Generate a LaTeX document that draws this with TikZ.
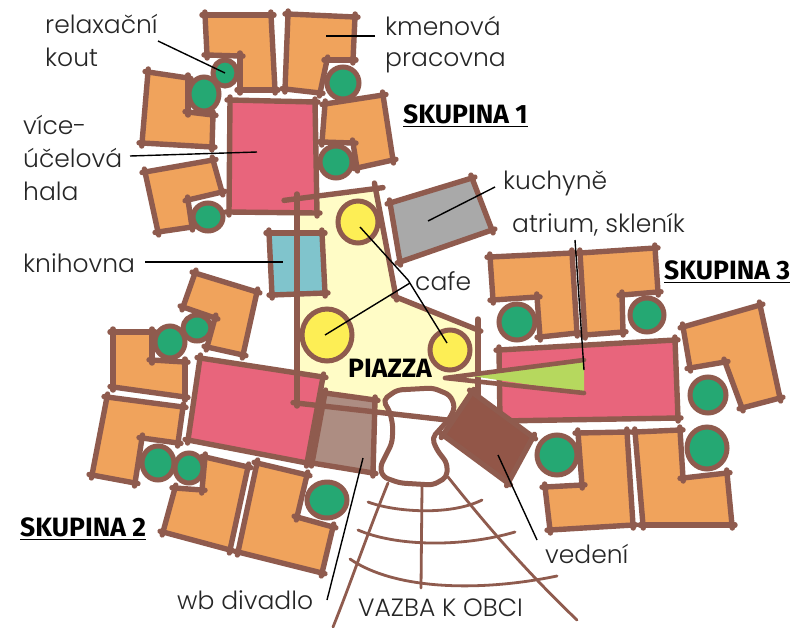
\documentclass[tikz,border=0pt]{standalone}
\usepackage{fontspec}
\setmainfont{Poppins Light}
\newfontfamily\boldlab{Fira Sans}
\definecolor{wallc}{HTML}{8F5B4E}
\definecolor{orangec}{HTML}{F0A35C}
\definecolor{pinkc}{HTML}{E8657C}
\definecolor{greenc}{HTML}{25A873}
\definecolor{yellowc}{HTML}{FDEE55}
\definecolor{piazzac}{HTML}{FFFCC6}
\definecolor{cyanc}{HTML}{80C4CC}
\definecolor{greyc}{HTML}{A9A9A9}
\definecolor{taupec}{HTML}{AD8D82}
\definecolor{darkc}{HTML}{925648}
\definecolor{atriumc}{HTML}{B6D85E}
\tikzset{
  x=1pt,y=-1pt,
  wall/.style={draw=wallc,line width=5.4pt,line cap=round,shorten <=-3pt,shorten >=-3pt},
  thinwall/.style={draw=wallc,line width=2.8pt,line cap=round},
  court/.style={draw=wallc,fill=greenc,line width=5pt},
  cafe/.style={draw=wallc,fill=yellowc,line width=5pt},
  leader/.style={draw=black,line width=1.4pt},
  lab/.style={anchor=base west,inner sep=0pt,font=\fontsize{25}{25}\selectfont,text=black!85},
  group/.style={anchor=base west,inner sep=0pt,font=\boldlab\bfseries\fontsize{26.5}{26.5}\selectfont,text=black},
}
% #1 fill, #2 first point, #3 other points
\newcommand{\plan}[3]{%
  \def\tmpp{}%
  \foreach \p in {#3}{\xdef\tmpp{\tmpp -- \p}}%
  \edef\cmdd{\noexpand\fill[#1] #2 \tmpp -- cycle;}\cmdd
  \xdef\prevv{#2}%
  \foreach \p in {#3,#2}{\draw[wall] \prevv -- \p; \xdef\prevv{\p}}%
}
\begin{document}
\begin{tikzpicture}
\useasboundingbox (0,0) rectangle (794,627);
\fill[white] (0,0) rectangle (794,627);
% piazza fill
\fill[piazzac] (297,202) -- (379,190) -- (396,297) -- (478,330) -- (477,390) -- (455,425) -- (376,412) -- (325,395) -- (322,376) -- (297,372) -- cycle;
% group 1
\plan{orangec}{(205,15)}{(271,15),(275,90),(240,90),(240,56),(207,55)}
\plan{orangec}{(288,14)}{(355,17),(353,60),(327,60),(320,93),(285,89)}
\plan{orangec}{(148,72)}{(188,78),(188,112),(213,115),(212,147),(142,143)}
\plan{orangec}{(145,172)}{(213,160),(222,192),(188,200),(192,227),(158,232)}
\plan{orangec}{(325,104)}{(383,95),(393,160),(357,168),(353,143),(322,142)}
\plan{pinkc}{(230,100)}{(315,102),(317,213),(229,212)}
\draw[court] (225,73) ellipse [x radius=12,y radius=13];
\draw[court] (204,94) ellipse [x radius=15,y radius=17];
\draw[court] (343,83) ellipse [x radius=16,y radius=16];
\draw[court] (336,162) ellipse [x radius=16,y radius=16];
\draw[court] (208,217) ellipse [x radius=15,y radius=14];
% library, kitchen
\plan{cyanc}{(269,233)}{(322,233),(325,293),(272,295)}
\plan{greyc}{(390,203)}{(472,178),(492,230),(400,262)}
% group 2
\plan{orangec}{(195,273)}{(257,292),(243,355),(207,347),(215,318),(183,307)}
\plan{orangec}{(113,332)}{(152,332),(152,360),(185,362),(185,397),(113,387)}
\plan{orangec}{(107,397)}{(183,407),(178,443),(142,438),(135,483),(92,475)}
\plan{orangec}{(205,457)}{(248,467),(230,550),(163,532),(175,488),(202,490)}
\plan{orangec}{(257,463)}{(307,475),(297,517),(333,527),(322,573),(238,552)}
\plan{pinkc}{(200,358)}{(323,377),(307,463),(188,440)}
\plan{taupec}{(325,393)}{(375,400),(373,473),(312,463)}
\draw[court] (170,342) ellipse [x radius=15,y radius=16];
\draw[court] (197,328) ellipse [x radius=14,y radius=13];
\draw[court] (158,463) ellipse [x radius=16,y radius=17];
\draw[court] (189,468) ellipse [x radius=14,y radius=15];
\draw[court] (327,500) ellipse [x radius=20,y radius=18];
% group 3
\plan{orangec}{(490,257)}{(572,253),(577,333),(540,337),(537,297),(493,300)}
\plan{orangec}{(580,253)}{(655,248),(658,292),(622,295),(623,332),(585,335)}
\plan{orangec}{(683,327)}{(760,305),(780,398),(742,408),(725,362),(690,368)}
\plan{orangec}{(578,433)}{(627,432),(633,525),(550,530),(545,487),(582,485)}
\plan{orangec}{(635,432)}{(680,430),(683,478),(727,473),(732,525),(643,525)}
\plan{pinkc}{(499,350)}{(675,340),(678,418),(500,421)}
\draw[court] (517,322) ellipse [x radius=18,y radius=18];
\draw[court] (647,315) ellipse [x radius=17,y radius=17];
\draw[court] (708,395) ellipse [x radius=18,y radius=18];
\draw[court] (557,455) ellipse [x radius=20,y radius=20];
\draw[court] (707,448) ellipse [x radius=20,y radius=21];
% piazza walls
\coordinate (pa) at (287,200);
\coordinate (pb) at (380,188);
\coordinate (pc) at (396,297);
\coordinate (pd) at (478,330);
\draw[wall] (pa) -- (pb);
\draw[wall] (375,186) -- (pc);
\draw[wall] (pc) -- (pd);
\draw[wall] (297,197) -- (297,403);
\draw[wall] (478,322) -- (478,400);
% courtyard
\draw[wallc,fill=white,line width=5pt,line join=round,rounded corners=5pt]
 (383,400) -- (397,390) -- (433,388) -- (450,395) -- (455,407) -- (450,418) -- (432,438) -- (437,450) -- (447,463) -- (447,477) -- (433,485) -- (400,483) -- (383,477) -- (380,467) -- (392,443) -- (393,427) -- (390,412) -- cycle;
\draw[wall] (296,403) -- (447,420);
% atrium
\fill[atriumc] (465,375) -- (584,360) -- (584,393) -- cycle;
\draw[wall,line width=4.6pt,shorten <=0pt,shorten >=0pt,line join=round] (584,360) -- (445,378) -- (584,393);
% direction office
\plan{darkc}{(472,392)}{(533,437),(508,483),(443,435)}
% cafes
\draw[cafe] (358,222) ellipse [x radius=20,y radius=21];
\draw[cafe] (327,335) ellipse [x radius=25,y radius=26];
\draw[cafe] (450,350) ellipse [x radius=20,y radius=20];
% links to the village
\draw[thinwall] (388,483) .. controls (365,540) and (350,585) .. (333,627);
\draw[thinwall] (422,487) -- (421,588);
\draw[thinwall] (448,477) .. controls (490,530) and (530,575) .. (577,620);
\draw[thinwall] (368,502) .. controls (395,512) and (450,516) .. (482,500);
\draw[thinwall] (358,530) .. controls (395,546) and (460,548) .. (515,532);
\draw[thinwall] (350,559) .. controls (395,590) and (480,592) .. (557,576);
% labels
\node[lab] (relax) at (45,33) {relaxační};
\node[lab] (kout) at (45,66) {kout};
\node[lab] (kmen) at (385,35) {kmenová};
\node[lab] (prac) at (385,66) {pracovna};
\node[lab] (vice) at (23,134) {více-};
\node[lab] (ucel) at (23,167) {účelová};
\node[lab] (hala) at (23,200) {hala};
\node[lab] (knih) at (23,272) {knihovna};
\node[lab] (kuch) at (503,189) {kuchyně};
\node[lab] (atr) at (512,232) {atrium, skleník};
\node[lab] (caf) at (415,290) {cafe};
\node[lab] (ved) at (545,563) {vedení};
\node[lab] (wb) at (177,609) {wb divadlo};
\node[lab] (vaz) at (358,616) {VAZBA K OBCI};
\node[group] (sk1) at (403,123) {SKUPINA 1};
\node[group] (sk3) at (664,279) {SKUPINA 3};
\node[group] (sk2) at (20,536) {SKUPINA 2};
\node[group] (pia) at (348,377) {PIAZZA};
\foreach \n in {sk1,sk2,sk3}\draw[black,line width=1.3pt] ([yshift=-3.5pt]\n.base west) -- ([yshift=-3.5pt]\n.base east);
% leaders
\coordinate (t1) at (225,73);
\coordinate (t2) at (326,36);
\coordinate (t3) at (257,152);
\coordinate (t4) at (283,262);
\coordinate (t5) at (428,221);
\coordinate (t6) at (584,370);
\coordinate (t7) at (360,227);
\coordinate (t8) at (447,343);
\coordinate (t9) at (325,335);
\coordinate (t10) at (363,458);
\coordinate (t11) at (498,455);
\draw[leader] (158,41) -- (t1);
\draw[leader] (375,36) -- (t2);
\draw[leader] (130,156) -- (t3);
\draw[leader] (145,262) -- (t4);
\draw[leader] (495,187) -- (t5);
\draw[leader] (575,240) -- (t6);
\draw[leader] (t7) -- (408,280) -- (t8);
\draw[leader] (t9) -- (410,283);
\draw[leader] (327,600) -- (t10);
\draw[leader] (537,540) -- (t11);
\end{tikzpicture}
\end{document}
